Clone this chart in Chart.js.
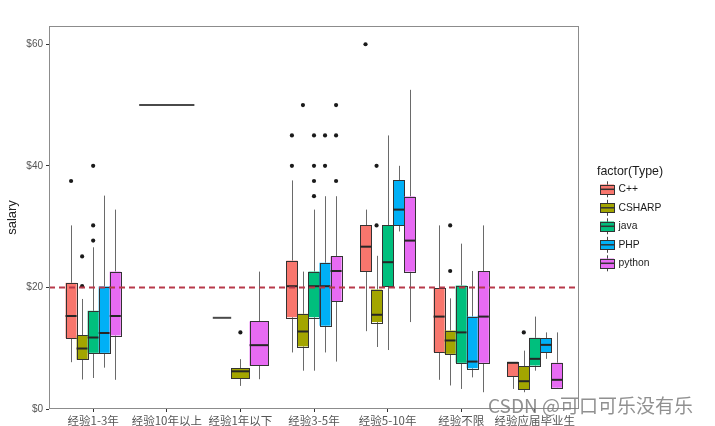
<!DOCTYPE html>
<html><head><meta charset="utf-8">
<script src="https://cdn.jsdelivr.net/npm/chart.js@4.4.1/dist/chart.umd.min.js"></script>
<style>html,body{margin:0;padding:0;background:#fff;}#wrap{width:715px;height:426px;}</style>
</head><body><div id="wrap"><canvas id="c" width="715" height="426"></canvas></div>
<script>
// ---- data ----
const categories = ['经验1-3年','经验10年以上','经验1年以下','经验3-5年','经验5-10年','经验不限','经验应届毕业生'];
const seriesNames = ['C++','CSHARP','java','PHP','python'];
const seriesColors = ['#F8766D','#A3A500','#00BF7D','#00B0F6','#E76BF3'];
const yTicks = [0,20,40,60];
const refLine = 20;

// [min, q1, median, q3, max] per category (null = no data)
const cppBox = [[7.7,11.65,15.3,20.75,30.2],[50,50,50,50,50],[15,15,15,15,15],[9.3,15.1,20.2,24.4,37.6],[12.8,22.6,26.7,30.2,32.8],[4.8,9.35,15.2,19.9,30.2],[3.3,5.35,7.6,7.7,7.7]];
const cppOut = [[37.5],[],[],[40,45],[60],[],[]];
const csharpBox = [[4.85,8.1,9.95,12.1,18.1],null,[3.8,5.07,6.2,6.7,8.2],[6.3,10.3,12.75,15.65,22.6],[10.2,14.3,15.5,19.65,25.2],[3.87,9.07,11.27,12.9,18.2],[2.76,3.15,4.57,7.0,9.6]];
const csharpOut = [[20.2,25.1],[],[12.6],[50],[30.2,40],[22.7,30.2],[12.6]];
const javaBox = [[5.1,9.24,11.76,16.15,26.6],null,null,[6.3,15.1,20.2,22.6,32.8],[9.7,20.2,24.15,30.2,45],[3.3,7.6,12.6,20.3,27.2],[6.3,7.15,8.25,11.7,15.2]];
const javaOut = [[27.7,30.2,40],[],[],[35,37.5,40,45],[],[],[]];
const phpBox = [[6.8,9.24,12.5,20.15,35.1],null,null,[9.3,13.7,20.2,24.05,35.0],[29.2,30.2,32.8,37.6,40],[5.2,6.7,7.8,15.2,22.7],[8.25,9.35,10.55,11.65,12.6]];
const phpOut = [[],[],[],[40,45],[],[],[]];
const pythonBox = [[4.8,12.1,15.3,22.6,32.8],null,[4.9,7.1,10.5,14.4,22.6],[7.8,17.7,22.7,25.1,35.0],[14.3,22.6,27.7,34.95,52.5],[2.76,7.6,15.2,22.7,30.2],[3.3,3.5,4.8,7.6,12.6]];
const pythonOut = [[],[],[],[37.5,45,50],[],[],[]];

const boxes = [cppBox, csharpBox, javaBox, phpBox, pythonBox];
const outs = [cppOut, csharpOut, javaOut, phpOut, pythonOut];

// ---- dodge layout ----
const DODGE = 0.75;
function slot(ci, si) {
  const present = boxes.map((b,k)=>b[ci]?k:-1).filter(k=>k>=0);
  const w = DODGE/present.length;
  const k = present.indexOf(si);
  return {center: ci - DODGE/2 + w*(k+0.5), width: w};
}

const outlierDatasets = seriesNames.map((name, si) => ({
  label: name,
  data: outs[si].flatMap((arr, ci) => arr.map(v => ({x: slot(ci, si).center, y: v}))),
  pointRadius: 2.1,
  pointHoverRadius: 2.1,
  backgroundColor: '#1a1a1a',
  borderWidth: 0
}));

const boxPlugin = {
  id: 'boxes',
  beforeDatasetsDraw(chart) {
    const {ctx, scales: {x, y}} = chart;
    ctx.save();
    boxes.forEach((series, si) => {
      series.forEach((st, ci) => {
        if (!st) return;
        const s = slot(ci, si);
        const cx = Math.round(x.getPixelForValue(s.center)) + 0.5;
        const l = x.getPixelForValue(s.center - s.width/2);
        const r = x.getPixelForValue(s.center + s.width/2);
        const [mn, q1, md, q3, mx] = st.map(v => y.getPixelForValue(v));
        // whiskers
        ctx.strokeStyle = '#6a6a6a'; ctx.lineWidth = 1;
        ctx.beginPath();
        ctx.moveTo(cx, mx); ctx.lineTo(cx, q3);
        ctx.moveTo(cx, q1); ctx.lineTo(cx, mn);
        ctx.stroke();
        // box
        if (q1 - q3 > 0.5) {
          ctx.fillStyle = seriesColors[si];
          ctx.fillRect(l, q3, r - l, q1 - q3);
          ctx.strokeStyle = '#333'; ctx.lineWidth = 1;
          ctx.strokeRect(Math.round(l)+0.5, Math.round(q3)+0.5, Math.round(r-l), Math.round(q1-q3));
        }
        // median
        ctx.strokeStyle = q1 - q3 > 0.5 ? '#262626' : '#4a4a4a'; ctx.lineWidth = 2;
        ctx.beginPath(); ctx.moveTo(l, md); ctx.lineTo(r, md); ctx.stroke();
      });
    });
    ctx.restore();
  },
  afterDatasetsDraw(chart) {
    const {ctx, chartArea: a, scales: {y}} = chart;
    const yy = y.getPixelForValue(refLine);
    ctx.save();
    ctx.strokeStyle = '#B8394A'; ctx.lineWidth = 2; ctx.setLineDash([6,4]);
    ctx.beginPath(); ctx.moveTo(a.left, yy); ctx.lineTo(a.right, yy); ctx.stroke();
    ctx.restore();
  },
  afterDraw(chart) {
    const {ctx, chartArea: a} = chart;
    ctx.save();
    // panel border
    ctx.strokeStyle = '#8c8c8c'; ctx.lineWidth = 1;
    ctx.strokeRect(Math.round(a.left)+0.5, Math.round(a.top)+0.5, Math.round(a.right-a.left)-1, Math.round(a.bottom-a.top)-1);
    // legend
    ctx.fillStyle = '#1a1a1a'; ctx.textAlign = 'left'; ctx.textBaseline = 'middle';
    ctx.font = '12.4px "Liberation Sans", Arial, sans-serif';
    ctx.fillText('factor(Type)', 597, 172);
    ctx.font = '10.3px "Liberation Sans", Arial, sans-serif';
    seriesNames.forEach((name, i) => {
      const yc = 189.3 + i*18.5;
      ctx.strokeStyle = '#444'; ctx.lineWidth = 1;
      ctx.beginPath(); ctx.moveTo(607.5, yc-8); ctx.lineTo(607.5, yc+8); ctx.stroke();
      ctx.fillStyle = seriesColors[i];
      ctx.fillRect(600, yc-4.8, 14, 9.6);
      ctx.strokeStyle = '#333';
      ctx.strokeRect(600.5, Math.round(yc-4.8)+0.5, 14, 9);
      ctx.lineWidth = 1.5;
      ctx.beginPath(); ctx.moveTo(600, yc); ctx.lineTo(615, yc); ctx.stroke();
      ctx.fillStyle = '#1a1a1a';
      ctx.fillText(name, 618.5, yc);
    });
    // watermark
    ctx.font = '19px "Noto Sans CJK SC", sans-serif';
    ctx.fillStyle = 'rgba(125,125,125,0.85)';
    ctx.fillText('CSDN @可口可乐没有乐', 488, 406);
    ctx.restore();
  }
};

new Chart(document.getElementById('c'), {
  type: 'scatter',
  data: { datasets: outlierDatasets },
  options: {
    responsive: false,
    animation: false,
    events: [],
    layout: { padding: { top: 26, right: 136, bottom: 0, left: 0 } },
    plugins: { legend: { display: false }, tooltip: { enabled: false } },
    scales: {
      x: {
        type: 'linear', min: -0.6, max: 6.6,
        afterBuildTicks: s => { s.ticks = categories.map((c, i) => ({value: i})); },
        afterFit: s => { s.height = 17; },
        ticks: {
          autoSkip: false, maxRotation: 0, minRotation: 0, padding: 2, color: '#555',
          font: { family: '"Noto Sans CJK SC", sans-serif', size: 11.5 },
          callback: v => categories[v] ?? ''
        },
        grid: { drawOnChartArea: false, drawTicks: true, tickLength: 3, color: '#333' },
        border: { display: false }
      },
      y: {
        min: 0, max: 63,
        afterBuildTicks: s => { s.ticks = yTicks.map(v => ({value: v})); },
        afterFit: s => { s.width = 49; },
        ticks: {
          padding: 3, color: '#555',
          font: { family: '"Liberation Sans", Arial, sans-serif', size: 10 },
          callback: v => '$' + v
        },
        grid: { drawOnChartArea: false, drawTicks: true, tickLength: 3, color: '#333' },
        border: { display: false },
        title: { display: true, text: 'salary', color: '#222',
          font: { family: '"Liberation Sans", Arial, sans-serif', size: 13 },
          padding: { top: 5, bottom: 0 } }
      }
    }
  },
  plugins: [boxPlugin]
});
</script>
</body></html>
